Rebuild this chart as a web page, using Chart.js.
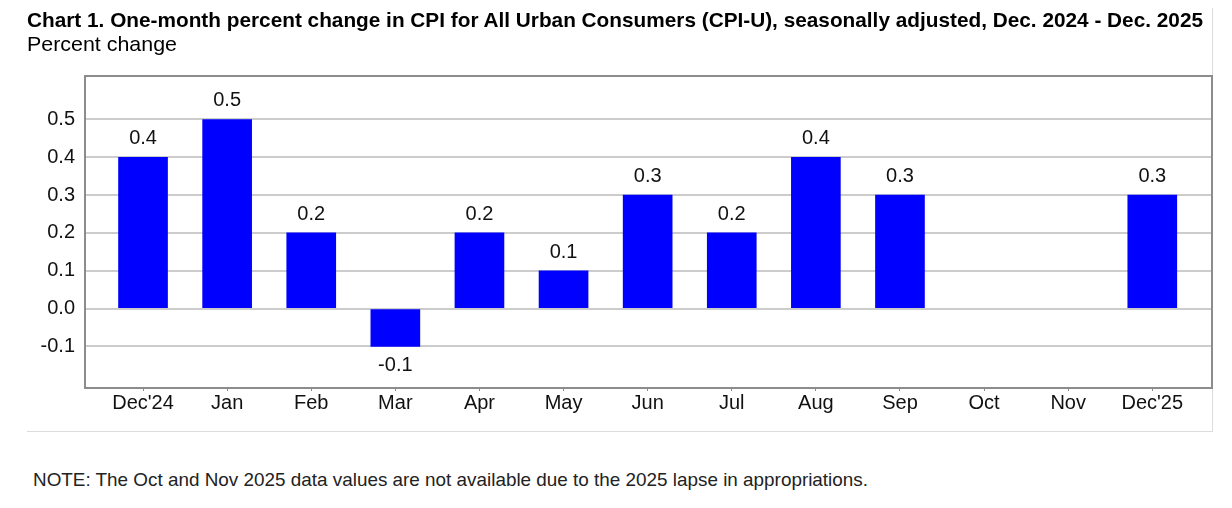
<!DOCTYPE html>
<html><head><meta charset="utf-8">
<script src="https://cdn.jsdelivr.net/npm/chart.js@4.4.1/dist/chart.umd.min.js"></script>
<style>
html,body{margin:0;padding:0;background:#fff;width:1232px;height:508px;overflow:hidden;font-family:"Liberation Sans",Arial,sans-serif;}
#frame{position:absolute;left:27px;top:8px;width:1186px;height:424px;border-right:1px solid #dcdcdc;border-bottom:1px solid #dcdcdc;box-sizing:border-box;}
.t{position:absolute;white-space:nowrap;color:#000;transform-origin:0 0;}
#title{left:27px;top:9px;font-weight:bold;font-size:21px;line-height:21px;}
#sub{left:27px;top:33px;font-size:21px;line-height:21px;}
#note{left:33px;top:470px;font-size:19px;line-height:19px;color:#222;}
#wrap{position:absolute;left:0;top:0;width:1232px;height:440px;}
</style></head>
<body>
<div id="frame"></div>
<div id="wrap"><canvas id="c" width="1232" height="440"></canvas></div>
<div class="t" id="title">Chart 1. One-month percent change in CPI for All Urban Consumers (CPI-U), seasonally adjusted, Dec. 2024 - Dec. 2025</div>
<div class="t" id="sub">Percent change</div>
<div class="t" id="note">NOTE: The Oct and Nov 2025 data values are not available due to the 2025 lapse in appropriations.</div>
<script>
const categories = ["Dec'24","Jan","Feb","Mar","Apr","May","Jun","Jul","Aug","Sep","Oct","Nov","Dec'25"];
const values = [0.4, 0.5, 0.2, -0.1, 0.2, 0.1, 0.3, 0.2, 0.4, 0.3, null, null, 0.3];
const yTicks = [-0.1, 0.0, 0.1, 0.2, 0.3, 0.4, 0.5];

function fit(id, w){
  const el = document.getElementById(id);
  const r = el.getBoundingClientRect().width;
  el.style.transform = 'scaleX(' + (w / r) + ')';
}
fit('title', 1176);
fit('sub', 150);
fit('note', 835);

const FONT = '"Liberation Sans", Arial, sans-serif';

const decor = {
  id: 'decor',
  afterDatasetsDraw(chart){
    const {ctx, chartArea: a} = chart;
    ctx.save();
    ctx.strokeStyle = '#8c8c8c';
    ctx.lineWidth = 2;
    ctx.strokeRect(a.left, a.top, a.right - a.left, a.bottom - a.top);
    const meta = chart.getDatasetMeta(0);
    ctx.font = '20px ' + FONT;
    ctx.fillStyle = '#111';
    ctx.textAlign = 'center';
    ctx.textBaseline = 'alphabetic';
    meta.data.forEach((bar, i) => {
      const v = values[i];
      if (v === null || v === undefined) return;
      const y = v >= 0 ? bar.y - 13 : bar.y + 25;
      ctx.fillText(v.toFixed(1), bar.x, y);
    });
    ctx.restore();
  }
};

new Chart(document.getElementById('c'), {
  type: 'bar',
  data: {
    datasets: [{
      data: values.map((v, i) => ({x: i, y: v})),
      backgroundColor: '#0000ff',
      borderWidth: 0,
      barThickness: 49
    }]
  },
  options: {
    responsive: false,
    animation: false,
    layout: {padding: {top: 76, left: 0, right: 20, bottom: 0}},
    plugins: {legend: {display: false}, tooltip: {enabled: false}},
    scales: {
      x: {
        type: 'linear',
        offset: false,
        min: -0.69,
        max: 12.71,
        afterBuildTicks: s => { s.ticks = categories.map((_, i) => ({value: i})); },
        afterFit: s => { s.height = 52; },
        ticks: {
          autoSkip: false, maxRotation: 0, padding: 0,
          callback: v => categories[v],
          font: {size: 20, family: FONT}, color: '#111'
        },
        grid: {offset: false, drawOnChartArea: false, drawTicks: true, tickLength: 3, color: '#8c8c8c'},
        border: {display: false}
      },
      y: {
        min: -0.21,
        max: 0.615,
        afterBuildTicks: s => { s.ticks = yTicks.map(v => ({value: v})); },
        afterFit: s => { s.width = 85; },
        ticks: {
          padding: 10,
          callback: v => Number(v).toFixed(1),
          font: {size: 20, family: FONT}, color: '#111'
        },
        grid: {color: '#cccccc', lineWidth: 2, drawTicks: false},
        border: {display: false}
      }
    }
  },
  plugins: [decor]
});
</script>
</body></html>
